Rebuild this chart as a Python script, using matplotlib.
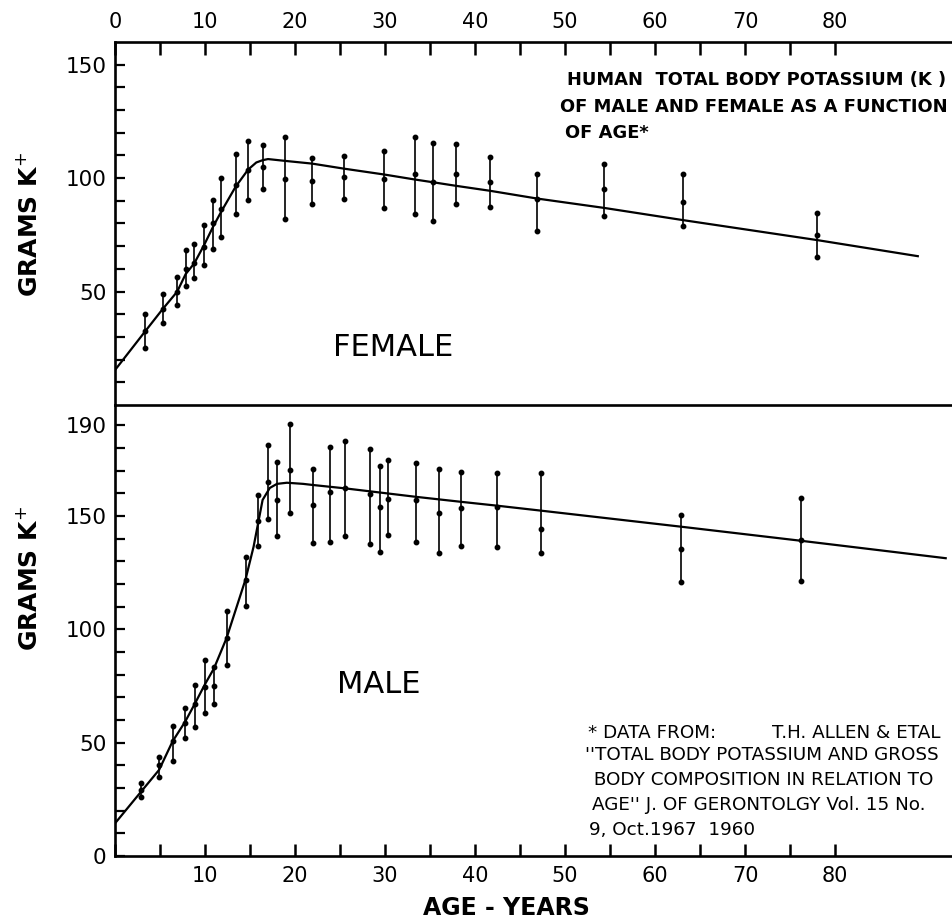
import numpy as np
import matplotlib
matplotlib.use("Agg")
import matplotlib.pyplot as plt

# female: age, mean, lower, upper (grams K+)
fem_age = [3.3, 5.3, 6.9, 7.85, 8.8, 9.9, 10.9, 11.8, 13.4, 14.8, 16.4, 18.9,
           21.9, 25.4, 29.9, 33.3, 35.3, 37.9, 41.7, 46.9, 54.3, 63.1, 78.0]
fem_mean = [32.7, 42.3, 49.6, 59.9, 62.8, 69.5, 80.0, 86.6, 96.9, 103.8, 105.0, 99.7,
            98.8, 100.4, 99.4, 101.6, 98.2, 102.0, 98.1, 90.6, 95.2, 89.6, 74.9]
fem_lo = [25.3, 36.0, 44.1, 52.6, 55.8, 61.5, 68.7, 73.9, 84.4, 90.2, 95.2, 81.9,
          88.5, 90.7, 86.9, 84.4, 81.2, 88.8, 87.4, 76.8, 83.3, 79.0, 65.3]
fem_hi = [40.1, 48.9, 56.2, 68.3, 70.9, 79.2, 90.3, 100.1, 110.6, 116.4, 114.7, 118.2,
          108.7, 109.7, 111.9, 118.2, 115.3, 115.0, 109.1, 101.6, 106.4, 101.6, 84.7]

# female fitted curve
fem_curve_age = [0, 3.3, 5.3, 6.9, 7.85, 8.8, 9.9, 10.9, 11.8, 13.4, 14.8, 15.7, 16.4,
                 17.0, 18.9, 21.9, 25.4, 29.9, 33.3, 35.3, 37.9, 41.7, 46.9, 54.3,
                 63.1, 78.0, 89.2]
fem_curve_k = [15.4, 32.2, 42.3, 49.9, 57.7, 62.4, 70.5, 78.6, 85.2, 96.2, 103.8, 106.9,
               107.9, 108.4, 107.6, 106.4, 104.2, 101.6, 99.4, 98.2, 96.6, 94.4, 91.0,
               86.9, 81.5, 72.7, 65.6]

# male: age, mean, lower, upper
male_age = [2.9, 4.9, 6.4, 7.8, 8.9, 10.0, 11.0, 12.4, 14.5, 15.9, 17.0, 18.0, 19.4,
            22.0, 23.9, 25.6, 28.3, 29.4, 30.3, 33.4, 36.0, 38.4, 42.4, 47.3, 62.9, 76.2]
male_mean = [29.1, 40.2, 50.9, 58.8, 67.1, 74.7, 75.2, 96.4, 121.8, 148.0, 165.2, 157.1,
             170.3, 154.8, 160.6, 162.2, 159.8, 154.2, 157.5, 157.1, 151.2, 153.6, 153.8,
             144.1, 135.5, 139.4]
male_lo = [26.2, 34.7, 42.1, 51.9, 57.1, 63.0, 67.2, 84.3, 110.5, 136.8, 148.6, 141.2,
           151.2, 138.3, 138.7, 141.3, 137.5, 134.2, 141.7, 138.7, 133.9, 136.8, 136.2,
           133.5, 120.9, 121.5]
male_hi = [32.4, 43.8, 57.4, 65.1, 75.5, 86.5, 83.2, 108.2, 132.1, 159.3, 181.4, 174.0,
           190.6, 170.9, 180.3, 183.3, 179.4, 172.1, 174.8, 173.2, 170.6, 169.6, 169.1,
           169.1, 150.6, 158.1]

# male fitted curve
male_curve_age = [0, 2.9, 4.9, 6.4, 7.8, 8.9, 10.0, 11.0, 12.4, 14.5, 15.4, 15.9, 16.4,
                  17.2, 18.0, 19.1, 20.9, 22.0, 25.6, 29.4, 33.4, 38.4, 42.4, 47.3,
                  62.9, 76.2, 92.3]
male_curve_k = [14.4, 28.4, 38.0, 50.6, 59.3, 67.4, 75.8, 82.8, 96.2, 122.0, 136.5, 146.8,
                157.1, 162.4, 164.2, 164.7, 164.2, 163.7, 162.2, 160.4, 158.5, 156.3,
                154.6, 152.4, 145.3, 139.1, 131.4]

plt.rcParams['font.family'] = 'DejaVu Sans'

W, H = 952, 922
fig = plt.figure(figsize=(W / 100, H / 100), dpi=100)

def fx(px):
    return px / W

def fy(py):
    return 1 - py / H

left = fx(115)
ax1 = fig.add_axes([left, fy(405), 1 - left, fy(42) - fy(405)])
ax2 = fig.add_axes([left, fy(856), 1 - left, fy(405) - fy(856)])

spine_lw = 1.9

def draw(ax, age, mean, lo, hi, cage, ck):
    mean = np.array(mean)
    yerr = [mean - np.array(lo), np.array(hi) - mean]
    ax.errorbar(age, mean, yerr=yerr, fmt='o', ms=3.2, color='black',
                elinewidth=1.2, capsize=0, zorder=3)
    ax.plot(age, lo, 'o', ms=3.2, color='black', zorder=3)
    ax.plot(age, hi, 'o', ms=3.2, color='black', zorder=3)
    ax.plot(cage, ck, color='black', lw=1.6, zorder=2)
    ax.set_xlim(0, 93)
    ax.patch.set_visible(False)
    ax.spines['right'].set_visible(False)
    for s in ax.spines.values():
        s.set_linewidth(spine_lw)
    ax.set_xticks(np.arange(0, 85, 5))
    ax.tick_params(axis='x', direction='in', length=9, width=1.8, labelsize=15, pad=7)
    ax.tick_params(axis='y', direction='in', length=7, width=1.6, labelsize=15.5, pad=6)

draw(ax1, fem_age, fem_mean, fem_lo, fem_hi, fem_curve_age, fem_curve_k)
draw(ax2, male_age, male_mean, male_lo, male_hi, male_curve_age, male_curve_k)

# top panel
ax1.set_ylim(0, 160)
ax1.xaxis.tick_top()
ax1.set_xticklabels([str(v) if v % 10 == 0 else '' for v in range(0, 85, 5)])
ax1.set_yticks(np.arange(10, 160, 10))
ax1.set_yticklabels([str(v) if v in (50, 100, 150) else '' for v in range(10, 160, 10)])

# bottom panel
ax2.set_ylim(0, 199)
ax2.spines['top'].set_visible(False)
ax2.set_xticklabels([str(v) if (v % 10 == 0 and v > 0) else '' for v in range(0, 85, 5)])
ax2.set_yticks(np.arange(0, 200, 10))
ax2.set_yticklabels([str(v) if v in (0, 50, 100, 150, 190) else '' for v in range(0, 200, 10)])

# labels
fig.text(fx(30), fy(224), 'GRAMS K$^{+}$', rotation=90, ha='center', va='center',
         fontsize=18, fontweight='bold')
fig.text(fx(30), fy(578), 'GRAMS K$^{+}$', rotation=90, ha='center', va='center',
         fontsize=18, fontweight='bold')
fig.text(fx(506), fy(908), 'AGE - YEARS', ha='center', va='center',
         fontsize=17, fontweight='bold')

fig.text(fx(333), fy(347), 'FEMALE', ha='left', va='center', fontsize=22)
fig.text(fx(337), fy(684), 'MALE', ha='left', va='center', fontsize=22)

title_lines = ['HUMAN  TOTAL BODY POTASSIUM (K )',
               'OF MALE AND FEMALE AS A FUNCTION',
               'OF AGE*']
for txt, px, py in zip(title_lines, [567, 560, 565], [80, 107, 133]):
    fig.text(fx(px), fy(py), txt, ha='left', va='center', fontsize=12.9,
             fontweight='bold')

note_lines = ['* DATA FROM:',
              "''TOTAL BODY POTASSIUM AND GROSS",
              ' BODY COMPOSITION IN RELATION TO',
              "AGE'' J. OF GERONTOLGY Vol. 15 No.",
              '9, Oct.1967  1960']
for txt, px, py in zip(note_lines, [588, 585, 588, 592, 589], [733, 755, 780, 805, 830]):
    fig.text(fx(px), fy(py), txt, ha='left', va='center', fontsize=13.2)
fig.text(fx(772), fy(733), 'T.H. ALLEN & ETAL', ha='left', va='center', fontsize=13.2)

fig.savefig('out.png', dpi=100)
